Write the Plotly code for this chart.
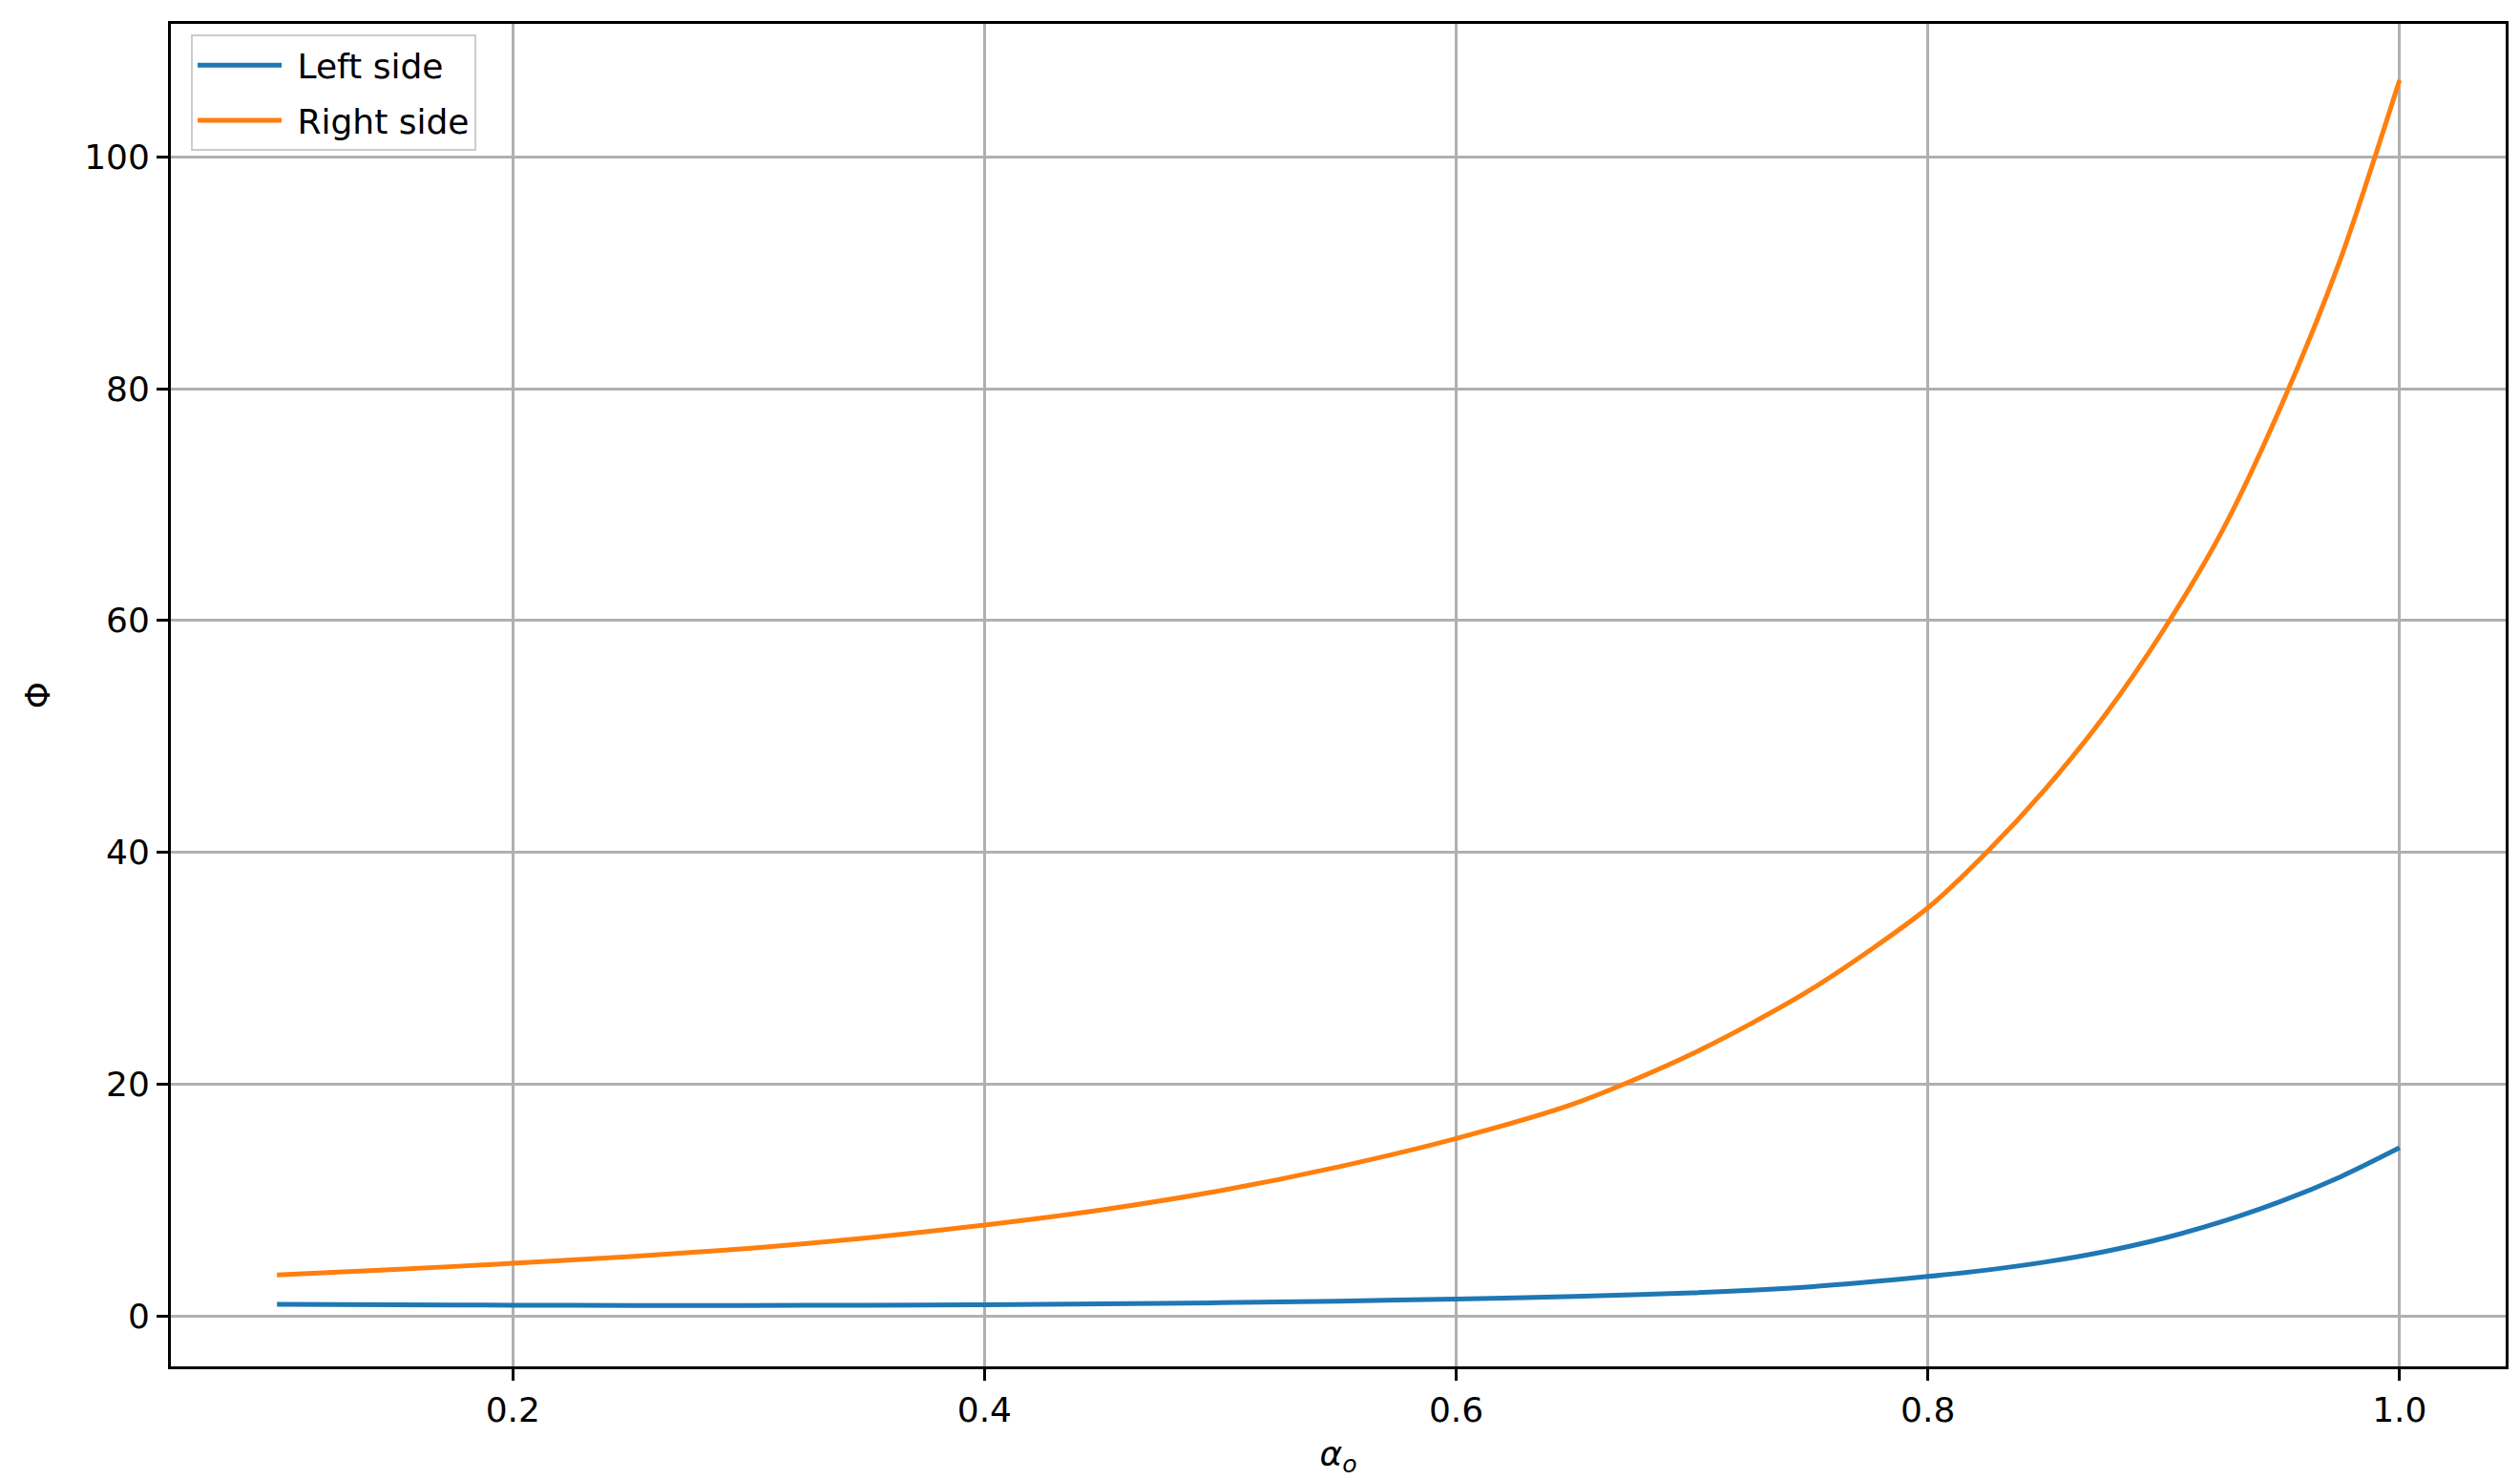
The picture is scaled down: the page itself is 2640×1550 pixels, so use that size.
import plotly.graph_objects as go

# Data
alpha = [0.1, 0.15, 0.2, 0.25, 0.3, 0.35, 0.4, 0.45, 0.5, 0.55, 0.6, 0.65, 0.7, 0.75,
         0.8, 0.825, 0.85, 0.875, 0.9, 0.925, 0.95, 0.975, 1.0]
left_side = [1.0, 0.95, 0.92, 0.9, 0.9, 0.92, 0.96, 1.03, 1.13, 1.27, 1.45, 1.68, 1.98, 2.5,
             3.4, 3.95, 4.65, 5.55, 6.7, 8.15, 9.9, 12.0, 14.5]
right_side = [3.52, 4.0, 4.53, 5.12, 5.82, 6.72, 7.83, 9.15, 10.8, 12.85, 15.3, 18.3, 22.6, 28.1,
              35.2, 40.0, 45.5, 51.8, 59.2, 67.8, 78.6, 91.2, 106.6]
series_names = ["Left side", "Right side"]

x_ticks = [0.2, 0.4, 0.6, 0.8, 1.0]
x_tick_labels = ["0.2", "0.4", "0.6", "0.8", "1.0"]
y_ticks = [0, 20, 40, 60, 80, 100]
y_tick_labels = ["0", "20", "40", "60", "80", "100"]

FONT = "DejaVu Sans"
FS = 36
NBSP = "\u00a0"

fig = go.Figure()
fig.add_trace(go.Scatter(x=alpha, y=left_side, mode="lines", name=NBSP + series_names[0],
                         legendgroup="a",
                         line=dict(color="#1f77b4", width=5, shape="spline", smoothing=0.8)))
fig.add_trace(go.Scatter(x=alpha, y=right_side, mode="lines", name=NBSP + series_names[1],
                         legendgroup="b",
                         line=dict(color="#ff7f0e", width=5, shape="spline", smoothing=0.8)))

axis_common = dict(
    showline=True, linecolor="black", linewidth=2.8, mirror=True,
    ticks="outside", ticklen=12, tickwidth=2.8, tickcolor="black",
    showgrid=True, gridcolor="#b0b0b0", gridwidth=2.8,
    zeroline=False,
    tickfont=dict(family=FONT, size=FS, color="black"),
)

fig.update_xaxes(
    range=[0.055, 1.045], tickvals=x_ticks, ticktext=x_tick_labels,
    title=dict(text="<i>α</i><sub><i>o</i></sub>", font=dict(family=FONT, size=FS, color="black"),
               standoff=14),
    **axis_common,
)
fig.update_yaxes(
    range=[-4.36, 111.47], tickvals=y_ticks, ticktext=y_tick_labels,
    title=dict(text="Φ", font=dict(family=FONT, size=FS, color="black"), standoff=25),
    **axis_common,
)

# page body adds a small offset, so figure is sized/offset accordingly
fig.update_layout(
    width=2632, height=1542,
    margin=dict(l=171, r=15, t=17, b=119, autoexpand=False),
    paper_bgcolor="white", plot_bgcolor="white",
    font=dict(family=FONT, size=FS, color="black"),
    showlegend=True,
    legend=dict(
        x=0.0086, y=0.992, xanchor="left", yanchor="top",
        bgcolor="rgba(255,255,255,0.8)", bordercolor="#cccccc", borderwidth=2,
        font=dict(family=FONT, size=FS, color="black"),
        itemwidth=88, tracegroupgap=8,
    ),
)

fig.write_html("out.html")
